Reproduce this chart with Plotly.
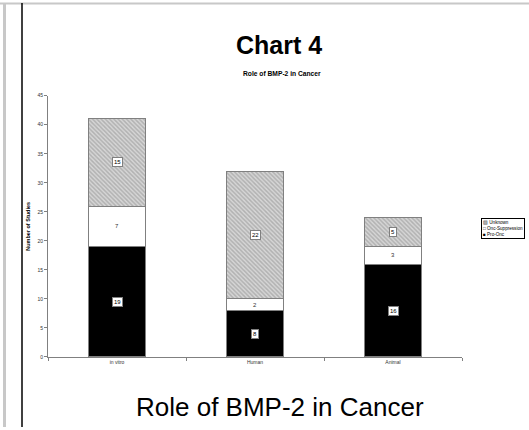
import plotly.graph_objects as go

categories = ["in vitro", "Human", "Animal"]
pro_onc = [19, 8, 16]
onc_supp = [7, 2, 3]
unknown = [15, 22, 5]
y_ticks = [0, 5, 10, 15, 20, 25, 30, 35, 40, 45]

W, H = 529, 430
FONT = "Arial, Liberation Sans, sans-serif"

fig = go.Figure()
fig.add_trace(go.Bar(x=categories, y=pro_onc, name="Pro-Onc",
                     marker=dict(color="#000000", line=dict(color="#808080", width=1)),
                     width=0.41))
fig.add_trace(go.Bar(x=categories, y=onc_supp, name="Onc-Suppression",
                     marker=dict(color="#ffffff", line=dict(color="#808080", width=1)),
                     width=0.41))
fig.add_trace(go.Bar(x=categories, y=unknown, name="Unknown",
                     marker=dict(color="#d4d4d4", line=dict(color="#808080", width=1),
                                 pattern=dict(shape="\\", fgcolor="#8c8c8c", bgcolor="#d6d6d6",
                                              size=3, solidity=0.5)),
                     width=0.41))

annotations = []
for i, c in enumerate(categories):
    a, b, u = pro_onc[i], onc_supp[i], unknown[i]
    annotations.append(dict(x=c, y=a / 2, text=str(a), showarrow=False,
                            font=dict(size=6, color="#000", family=FONT),
                            bgcolor="#ffffff", bordercolor="#808080", borderwidth=1, borderpad=1))
    annotations.append(dict(x=c, y=a + b / 2, text=str(b), showarrow=False,
                            font=dict(size=6, color="#333", family=FONT)))
    annotations.append(dict(x=c, y=a + b + u / 2, text=str(u), showarrow=False,
                            font=dict(size=6, color="#000", family=FONT),
                            bgcolor="#ffffff", bordercolor="#808080", borderwidth=1, borderpad=1))

# titles
annotations.append(dict(xref="paper", yref="paper", x=279 / W, y=1 - 43 / H, text="<b>Chart 4</b>",
                        showarrow=False, font=dict(size=25, color="#000", family=FONT),
                        xanchor="center", yanchor="middle"))
annotations.append(dict(xref="paper", yref="paper", x=282 / W, y=1 - 71 / H,
                        text="<b>Role of BMP-2 in Cancer</b>",
                        showarrow=False, font=dict(size=6.7, color="#000", family=FONT),
                        xanchor="center", yanchor="middle"))
annotations.append(dict(xref="paper", yref="paper", x=280 / W, y=1 - 410 / H,
                        text="Role of BMP-2 in Cancer",
                        showarrow=False, font=dict(size=26, color="#000", family=FONT),
                        xanchor="center", yanchor="middle"))
# legend box
annotations.append(dict(xref="paper", yref="paper", x=481 / W, y=1 - 218 / H,
                        text="▨ Unknown<br>□ Onc-Suppression<br>■ Pro-Onc",
                        showarrow=False, align="left", xanchor="left", yanchor="top",
                        font=dict(size=4.6, color="#000", family=FONT),
                        bgcolor="#ffffff", bordercolor="#000000", borderwidth=1, borderpad=1))

shapes = [
    dict(type="rect", xref="paper", yref="paper", x0=3 / W, x1=6 / W, y0=0, y1=1,
         fillcolor="#c8c8c8", line=dict(width=0), layer="below"),
    dict(type="line", xref="paper", yref="paper", x0=0, x1=1, y0=1 - 0.5 / H, y1=1 - 0.5 / H,
         line=dict(color="#c8c8c8", width=2)),
    dict(type="line", xref="paper", yref="paper", x0=22 / W, x1=22 / W, y0=0, y1=1,
         line=dict(color="#000000", width=1.5)),
]

fig.update_layout(
    width=W, height=H,
    margin=dict(l=0, r=0, t=0, b=0),
    paper_bgcolor="#ffffff", plot_bgcolor="#ffffff",
    barmode="stack", showlegend=False,
    annotations=annotations, shapes=shapes,
    xaxis=dict(domain=[48 / W, 462 / W], range=[-0.5, 2.5], showgrid=False,
               showline=True, linecolor="#808080", linewidth=1,
               ticks="outside", tickson="boundaries", ticklen=3, tickcolor="#808080",
               tickfont=dict(size=5, color="#333", family=FONT)),
    yaxis=dict(domain=[(H - 359) / H, (H - 94) / H], range=[0, 45], tickvals=y_ticks,
               showgrid=False, zeroline=False,
               showline=True, linecolor="#808080", linewidth=1,
               ticks="outside", ticklen=3, tickcolor="#808080",
               tickfont=dict(size=5, color="#333", family=FONT),
               title=dict(text="<b>Number of Studies</b>", standoff=6,
                          font=dict(size=5.5, color="#000", family=FONT))),
)

fig.write_html("out.html", config={"displayModeBar": False},
               post_script="document.body.style.margin='0';document.body.style.overflow='hidden';")
